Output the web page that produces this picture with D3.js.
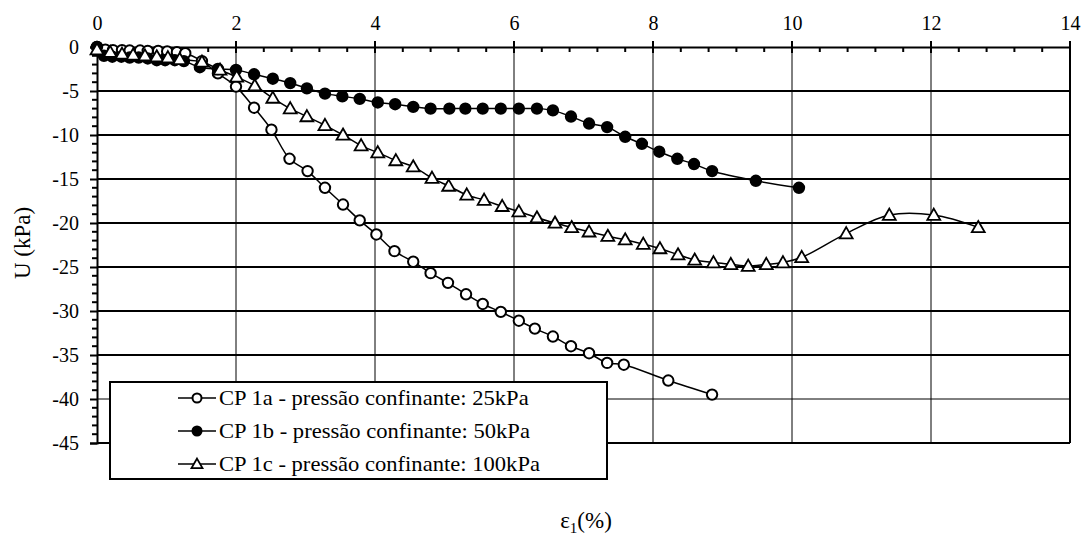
<!DOCTYPE html>
<html>
<head>
<meta charset="utf-8">
<script src="https://cdn.jsdelivr.net/npm/d3@7"></script>
<style>
  body { margin: 0; background: #fff; }
  text { font-family: "Liberation Serif", "Times New Roman", serif; fill: #000; }
</style>
</head>
<body>
<div id="chart"></div>
<script>
// CP 1a - 25kPa (open circles)
const cp1aX = [0, 0.12, 0.23, 0.36, 0.47, 0.62, 0.73, 0.88, 1.01, 1.15, 1.27, 1.51, 1.74, 2.0, 2.26, 2.51, 2.77, 3.03, 3.28, 3.54, 3.78, 4.02, 4.28, 4.55, 4.80, 5.05, 5.31, 5.55, 5.81, 6.07, 6.30, 6.56, 6.82, 7.08, 7.34, 7.58, 8.22, 8.85];
const cp1aY = [0, -0.3, -0.35, -0.35, -0.4, -0.4, -0.45, -0.45, -0.5, -0.6, -0.7, -1.6, -3.0, -4.5, -6.9, -9.4, -12.7, -14.1, -16.0, -17.9, -19.7, -21.3, -23.2, -24.4, -25.7, -26.8, -28.1, -29.2, -30.1, -31.1, -32.0, -32.9, -34.0, -34.8, -35.9, -36.1, -37.9, -39.5];

// CP 1b - 50kPa (filled circles)
const cp1bX = [0, 0.1, 0.22, 0.35, 0.47, 0.6, 0.73, 0.86, 0.98, 1.12, 1.25, 1.48, 1.74, 2.0, 2.26, 2.53, 2.78, 3.02, 3.28, 3.53, 3.78, 4.04, 4.29, 4.55, 4.80, 5.07, 5.30, 5.55, 5.81, 6.07, 6.33, 6.56, 6.82, 7.08, 7.34, 7.60, 7.84, 8.09, 8.35, 8.59, 8.85, 9.48, 10.1];
const cp1bY = [0, -1.0, -1.1, -1.1, -1.2, -1.2, -1.3, -1.5, -1.5, -1.5, -1.6, -2.3, -2.5, -2.6, -3.1, -3.6, -4.1, -4.7, -5.3, -5.6, -5.9, -6.3, -6.5, -6.8, -7.0, -7.0, -7.0, -7.0, -7.0, -7.0, -7.0, -7.2, -7.9, -8.7, -9.1, -10.2, -11.0, -11.9, -12.7, -13.3, -14.1, -15.2, -16.0];

// CP 1c - 100kPa (open triangles)
const cp1cX = [0, 0.19, 0.36, 0.52, 0.69, 0.86, 1.02, 1.19, 1.51, 1.77, 2.01, 2.27, 2.53, 2.78, 3.02, 3.28, 3.54, 3.80, 4.04, 4.30, 4.55, 4.82, 5.06, 5.32, 5.57, 5.83, 6.07, 6.33, 6.59, 6.83, 7.08, 7.35, 7.60, 7.86, 8.10, 8.36, 8.60, 8.87, 9.12, 9.37, 9.63, 9.87, 10.14, 10.78, 11.40, 12.04, 12.68];
const cp1cY = [-0.3, -0.6, -0.8, -0.9, -1.0, -1.1, -1.2, -1.4, -1.7, -2.6, -3.4, -4.4, -5.8, -7.0, -7.9, -8.9, -10.0, -11.2, -12.0, -12.9, -13.6, -14.9, -15.8, -16.8, -17.4, -18.1, -18.7, -19.4, -20.0, -20.5, -21.0, -21.5, -21.9, -22.4, -22.9, -23.6, -24.2, -24.5, -24.7, -24.9, -24.7, -24.5, -23.9, -21.2, -19.1, -19.1, -20.5];

const seriesNames = [
  "CP 1a - pressão confinante: 25kPa",
  "CP 1b - pressão confinante: 50kPa",
  "CP 1c - pressão confinante: 100kPa"
];
const xTicks = [0, 2, 4, 6, 8, 10, 12, 14];
const yTicks = [0, -5, -10, -15, -20, -25, -30, -35, -40, -45];

const width = 1085, height = 540;
const plotL = 97, plotR = 1070, plotT = 47, plotB = 443;
const serif = '"Liberation Serif", "Times New Roman", serif';

const svg = d3.select('#chart').append('svg')
  .attr('width', width)
  .attr('height', height);

const x = d3.scaleLinear().domain([0, 14]).range([plotL, plotR]);
const y = d3.scaleLinear().domain([0, -45]).range([plotT, plotB]);

// grid lines
svg.append('g').selectAll('line')
  .data(xTicks.slice(1))
  .enter().append('line')
    .attr('x1', d => x(d)).attr('x2', d => x(d))
    .attr('y1', plotT).attr('y2', plotB)
    .style('stroke', '#000').style('stroke-width', 1);

svg.append('g').selectAll('line')
  .data(yTicks.slice(1))
  .enter().append('line')
    .attr('x1', plotL).attr('x2', plotR)
    .attr('y1', d => y(d)).attr('y2', d => y(d))
    .style('stroke', '#000')
    .style('stroke-width', d => d <= -40 ? 1 : 2);

// top axis
const xAxis = d3.axisTop(x).tickValues(xTicks).tickSize(0).tickPadding(17)
  .tickFormat(d => String(d));
const gx = svg.append('g').attr('transform', `translate(0,${plotT})`).call(xAxis)
  .attr('font-family', serif).attr('font-size', 20);
gx.select('.domain').style('stroke-width', 2);

// x minor ticks (inside) and major ticks
svg.append('g').selectAll('line')
  .data(d3.range(0, 14.001, 0.4).filter(v => Math.abs(v / 2 - Math.round(v / 2)) > 0.01))
  .enter().append('line')
    .attr('x1', d => x(d)).attr('x2', d => x(d))
    .attr('y1', plotT).attr('y2', plotT + 5)
    .style('stroke', '#000').style('stroke-width', 2);
svg.append('g').selectAll('line')
  .data(xTicks)
  .enter().append('line')
    .attr('x1', d => x(d)).attr('x2', d => x(d))
    .attr('y1', plotT - 6).attr('y2', plotT + 6)
    .style('stroke', '#000').style('stroke-width', 2);

// left axis (hyphen minus like the original)
const yAxis = d3.axisLeft(y).tickValues(yTicks).tickSize(7).tickPadding(11)
  .tickFormat(d => String(d));
const gy = svg.append('g').attr('transform', `translate(${plotL},0)`).call(yAxis)
  .attr('font-family', serif).attr('font-size', 20);
gy.select('.domain').style('stroke-width', 2);
gy.selectAll('.tick line').style('stroke-width', 2);

svg.append('g').selectAll('line')
  .data(d3.range(-1, -45, -1).filter(v => v % 5 !== 0))
  .enter().append('line')
    .attr('x1', plotL - 5).attr('x2', plotL)
    .attr('y1', d => y(d)).attr('y2', d => y(d))
    .style('stroke', '#000').style('stroke-width', 2);

// bottom and right border
svg.append('line').attr('x1', plotL).attr('x2', plotR).attr('y1', plotB).attr('y2', plotB)
  .style('stroke', '#000').style('stroke-width', 2);
svg.append('line').attr('x1', plotR).attr('x2', plotR).attr('y1', plotT).attr('y2', plotB)
  .style('stroke', '#000').style('stroke-width', 2);

// series
const line = d3.line()
  .x(d => x(d[0]))
  .y(d => y(d[1]))
  .curve(d3.curveCatmullRom.alpha(0.5));

const series = [
  { pts: d3.zip(cp1aX, cp1aY), marker: 'circle', fill: '#fff' },
  { pts: d3.zip(cp1bX, cp1bY), marker: 'circle', fill: '#000' },
  { pts: d3.zip(cp1cX, cp1cY), marker: 'triangle', fill: '#fff' }
];

const triSym = d3.symbol().type(d3.symbolTriangle).size(72);
const triSmall = d3.symbol().type(d3.symbolTriangle).size(52);

function drawMarker(g, type, fill, cx, cy, r, sym) {
  if (type === 'circle') {
    g.append('circle')
      .attr('cx', cx).attr('cy', cy).attr('r', r)
      .style('fill', fill).style('stroke', '#000').style('stroke-width', 2);
  } else {
    g.append('path')
      .attr('d', sym())
      .attr('transform', `translate(${cx},${cy + 1})`)
      .style('fill', fill).style('stroke', '#000').style('stroke-width', 1.8);
  }
}

series.forEach(s => {
  svg.append('path')
    .datum(s.pts)
    .attr('d', line)
    .style('fill', 'none')
    .style('stroke', '#000')
    .style('stroke-width', 1.5);
});
series.forEach(s => {
  const g = svg.append('g');
  s.pts.forEach(p => drawMarker(g, s.marker, s.fill, x(p[0]), y(p[1]), 5.2, triSym));
});

// legend
const legend = svg.append('g');
legend.append('rect')
  .attr('x', 110).attr('y', 382).attr('width', 497).attr('height', 97)
  .style('fill', '#fff').style('stroke', '#000').style('stroke-width', 2);
const rowY = [398, 431, 464];
series.forEach((s, i) => {
  legend.append('line')
    .attr('x1', 178).attr('x2', 216)
    .attr('y1', rowY[i]).attr('y2', rowY[i])
    .style('stroke', '#000').style('stroke-width', 1.5);
  drawMarker(legend, s.marker, s.fill, 197, rowY[i], 4.5, triSmall);
  legend.append('text')
    .attr('transform', `translate(219,${rowY[i] + 7}) scale(1.13,1)`)
    .style('font-size', '20px')
    .text(seriesNames[i]);
});

// axis titles
svg.append('text')
  .attr('transform', `translate(30,243) rotate(-90)`)
  .attr('text-anchor', 'middle')
  .style('font-size', '23px')
  .text('U (kPa)');

const xt = svg.append('text')
  .attr('x', 586).attr('y', 528)
  .attr('text-anchor', 'middle')
  .style('font-size', '23px');
xt.append('tspan').text('ε');
xt.append('tspan').attr('dy', 5).style('font-size', '15px').text('1');
xt.append('tspan').attr('dy', -5).text('(%)');
</script>
</body>
</html>
